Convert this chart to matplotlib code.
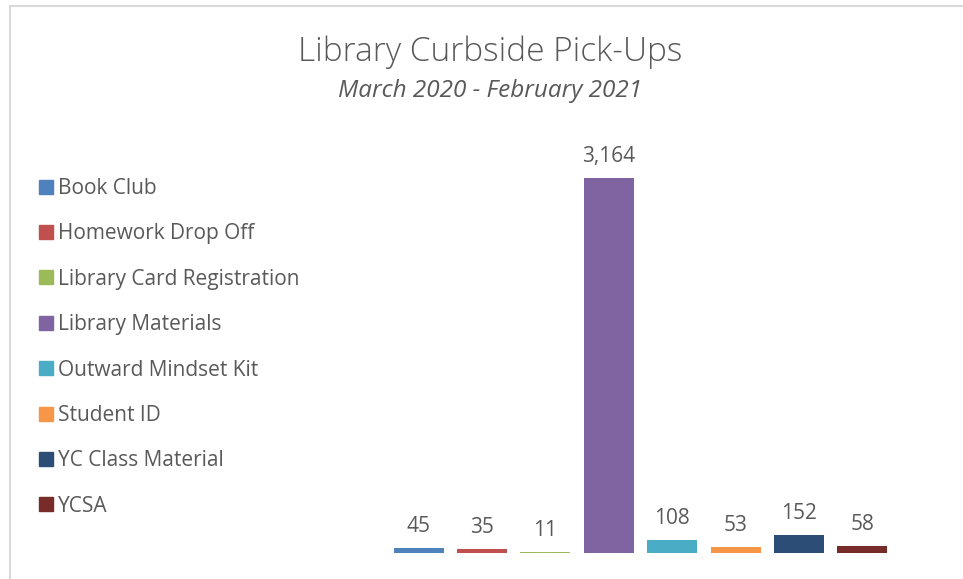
import matplotlib as mpl
mpl.use('Agg')
import matplotlib.pyplot as plt
from matplotlib.patches import Rectangle
from matplotlib.lines import Line2D

# Data
categories = ["Book Club", "Homework Drop Off", "Library Card Registration",
              "Library Materials", "Outward Mindset Kit", "Student ID",
              "YC Class Material", "YCSA"]
pickups = [45, 35, 11, 3164, 108, 53, 152, 58]
colors = ["#4F81BD", "#C0504D", "#9BBB59", "#8064A2",
          "#4BACC6", "#F79646", "#2C4D75", "#772C2A"]

text_color = "#595959"
plt.rcParams['font.family'] = ['Open Sans', 'DejaVu Sans']

W, H = 963, 579
fig = plt.figure(figsize=(W / 100, H / 100), dpi=100)

# chart area border (only top and left edges visible)
fig.add_artist(Line2D([10 / W, 1], [1 - 6 / H, 1 - 6 / H], color="#D9D9D9",
                      linewidth=1.5, transform=fig.transFigure))
fig.add_artist(Line2D([10 / W, 10 / W], [1 - 6 / H, 1 / H], color="#D9D9D9",
                      linewidth=1.5, transform=fig.transFigure))

# plot area in pixels: x 387..894, y 138..553
ax = fig.add_axes([387 / W, (H - 553) / H, (894 - 387) / W, (553 - 138) / H])
x = list(range(len(pickups)))
bars = ax.bar(x, pickups, width=0.79, color=colors, label=categories)
ax.set_xlim(-0.5, len(pickups) - 0.5)
ax.set_ylim(0, 3500)
ax.axis('off')

for xi, v in zip(x, pickups):
    ax.annotate(f"{v:,}", (xi, v), xytext=(0, 8), textcoords='offset points',
                ha='center', va='bottom', fontsize=15, color=text_color)

handles = [Rectangle((0, 0), 1, 1, color=c) for c in colors]
fig.legend(handles, categories, loc='upper left',
           bbox_to_anchor=(39 / W, 1 - 178 / H), frameon=False,
           fontsize=15, labelcolor=text_color, handlelength=0.65,
           handleheight=0.65, handletextpad=0.25, labelspacing=1.17,
           borderaxespad=0, borderpad=0)

fig.text(490 / W, 1 - 52 / H, "Library Curbside Pick-Ups", ha='center',
         va='center', fontsize=24, color=text_color, fontweight='light')
fig.text(490 / W, 1 - 91 / H, "March 2020 - February 2021", ha='center',
         va='center', fontsize=17.5, color=text_color, style='italic')

fig.savefig("out.png", dpi=100)
